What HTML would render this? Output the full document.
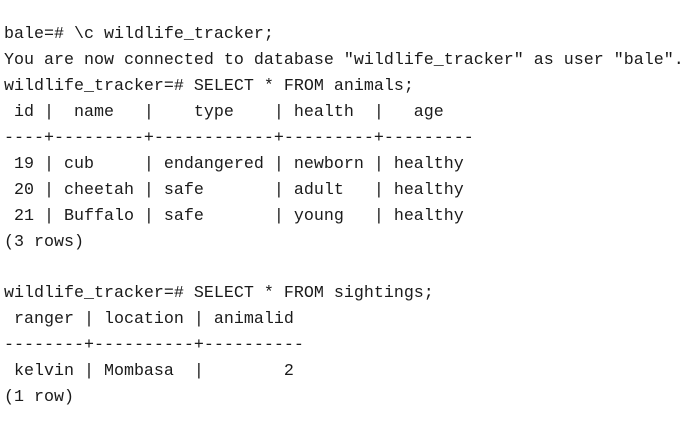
<!DOCTYPE html>
<html><head><style>
html,body{margin:0;padding:0;background:#fff;width:690px;height:435px;overflow:hidden}
pre{position:absolute;left:4px;top:22px;margin:0;font-family:"Liberation Mono",monospace;font-size:16.67px;line-height:25.93px;color:#1a1a1a}
</style></head><body>
<pre>bale=# \c wildlife_tracker;
You are now connected to database "wildlife_tracker" as user "bale".
wildlife_tracker=# SELECT * FROM animals;
 id |  name   |    type    | health  |   age
----+---------+------------+---------+---------
 19 | cub     | endangered | newborn | healthy
 20 | cheetah | safe       | adult   | healthy
 21 | Buffalo | safe       | young   | healthy
(3 rows)

wildlife_tracker=# SELECT * FROM sightings;
 ranger | location | animalid
--------+----------+----------
 kelvin | Mombasa  |        2
(1 row)</pre>
</body></html>
